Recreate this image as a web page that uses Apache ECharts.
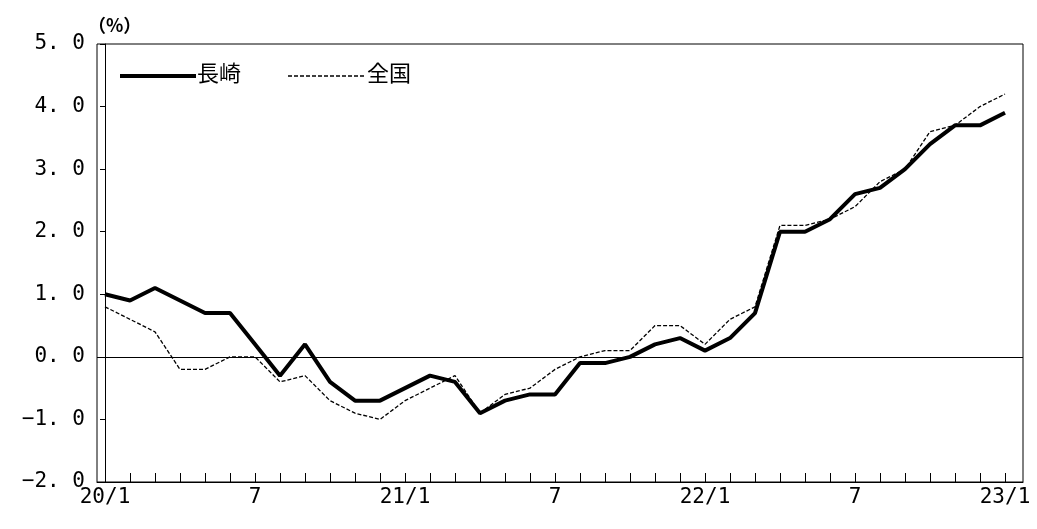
<!DOCTYPE html>
<html style="height: 100%">
<head>
    <meta charset="utf-8">
</head>
<body style="height: 100%; margin: 0; background: #fff">
    <div id="container" style="height: 100%"></div>
    <script type="text/javascript" src="https://cdn.jsdelivr.net/npm/echarts@6/dist/echarts.min.js"></script>
    <script type="text/javascript">
        // months from 20/1 to 23/1
        var tickLabels = ['20/1', '7', '21/1', '7', '22/1', '7', '23/1'];
        var nagasaki = [1.0, 0.9, 1.1, 0.9, 0.7, 0.7, 0.2, -0.3, 0.2, -0.4, -0.7, -0.7,
            -0.5, -0.3, -0.4, -0.9, -0.7, -0.6, -0.6, -0.1, -0.1, 0.0, 0.2, 0.3,
            0.1, 0.3, 0.7, 2.0, 2.0, 2.2, 2.6, 2.7, 3.0, 3.4, 3.7, 3.7, 3.9];
        var national = [0.8, 0.6, 0.4, -0.2, -0.2, 0.0, 0.0, -0.4, -0.3, -0.7, -0.9, -1.0,
            -0.7, -0.5, -0.3, -0.9, -0.6, -0.5, -0.2, 0.0, 0.1, 0.1, 0.5, 0.5,
            0.2, 0.6, 0.8, 2.1, 2.1, 2.2, 2.4, 2.8, 3.0, 3.6, 3.7, 4.0, 4.2];

        var font = '"Noto Sans CJK JP", sans-serif';
        var mono = '"DejaVu Sans Mono", monospace';
        function pairs(arr) { return arr.map(function (v, i) { return [i, v]; }); }
        var ticks = nagasaki.map(function (v, i) { return i; });

        var myChart = echarts.init(document.getElementById('container'));
        myChart.setOption({
            animation: false,
            textStyle: { fontFamily: font, color: '#000' },
            grid: { left: 97, right: 14, top: 44, bottom: 47, show: true, borderColor: '#000', borderWidth: 1 },
            graphic: [
                { type: 'text', left: 88, top: 16, style: { text: '（%）', font: 'bold 18px ' + font, fill: '#000' } },
                { type: 'line', shape: { x1: 120, y1: 76, x2: 196, y2: 76 }, style: { stroke: '#000', lineWidth: 4 } },
                { type: 'text', left: 197, top: 62, style: { text: '長崎', font: '22px ' + font, fill: '#000' } },
                { type: 'line', shape: { x1: 288, y1: 76, x2: 366, y2: 76 }, style: { stroke: '#000', lineWidth: 1.3, lineDash: [4, 2] } },
                { type: 'text', left: 367, top: 62, style: { text: '全国', font: '22px ' + font, fill: '#000' } }
            ],
            xAxis: {
                type: 'value', min: -0.32, max: 36.72,
                splitLine: { show: false },
                axisLine: { onZero: false, lineStyle: { color: '#000' } },
                axisTick: { inside: true, length: 9, customValues: ticks, lineStyle: { color: '#000' } },
                axisLabel: {
                    customValues: [0, 6, 12, 18, 24, 30, 36], fontSize: 21, fontFamily: mono, color: '#000', margin: 5,
                    formatter: function (v) { return tickLabels[Math.round(v / 6)]; }
                }
            },
            yAxis: {
                type: 'value', min: -2, max: 5, interval: 1,
                splitLine: { show: false },
                axisLine: { show: true, lineStyle: { color: '#000' } },
                axisTick: { show: true, lineStyle: { color: '#000' } },
                axisLabel: { fontSize: 21, fontFamily: mono, color: '#000', margin: 12,
                    formatter: function (v) { return v.toFixed(1).replace('-', '−').replace('.', '. '); } }
            },
            series: [
                {
                    name: '長崎', type: 'line', data: pairs(nagasaki), symbol: 'none',
                    lineStyle: { color: '#000', width: 4 },
                    markLine: { silent: true, symbol: 'none', label: { show: false },
                        lineStyle: { color: '#000', width: 1, type: 'solid' }, data: [{ yAxis: 0 }] }
                },
                {
                    name: '全国', type: 'line', data: pairs(national), symbol: 'none',
                    lineStyle: { color: '#000', width: 1.3, type: [4, 2] }
                }
            ]
        });
    </script>
</body>
</html>
